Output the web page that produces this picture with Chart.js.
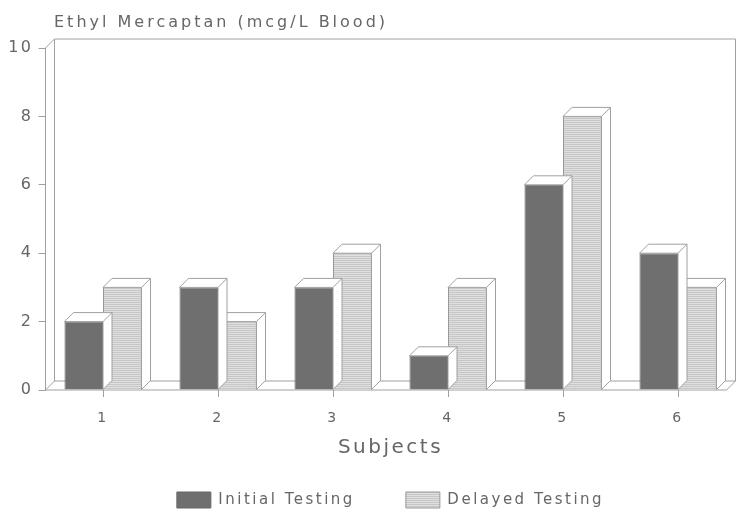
<!DOCTYPE html>
<html><head><meta charset="utf-8">
<script src="https://cdn.jsdelivr.net/npm/chart.js@4/dist/chart.umd.min.js"></script>
<style>html,body{margin:0;padding:0;background:#fff;} canvas{display:block;}</style>
</head><body>
<canvas id="c" width="740" height="515"></canvas>
<script>
const chartTitle = 'Ethyl Mercaptan (mcg/L Blood)';
const subjects = ['1', '2', '3', '4', '5', '6'];
const initialTesting = [2, 3, 3, 1, 6, 4];
const delayedTesting = [3, 2, 4, 3, 8, 3];
const yTicks = [0, 2, 4, 6, 8, 10];
const seriesNames = ['Initial Testing', 'Delayed Testing'];
const xTitle = 'Subjects';

const FONT = 'DejaVu Sans';
const TEXT = '#666';
const LINE = '#a0a0a0';
const DX = 9, DY = 9;

function hatch() {
  const c = document.createElement('canvas'); c.width = 4; c.height = 2;
  const g = c.getContext('2d');
  g.fillStyle = '#e0e0e0'; g.fillRect(0, 0, 4, 2);
  g.fillStyle = '#c6c6c6'; g.fillRect(0, 0, 4, 1);
  return g.createPattern(c, 'repeat');
}

const spacing = {
  id: 'spacing',
  beforeUpdate(ch) { ch.ctx.letterSpacing = '2.5px'; },
  beforeDraw(ch) { ch.ctx.letterSpacing = '2.5px'; }
};

const frame3d = {
  id: 'frame3d',
  beforeDatasetsDraw(ch) {
    const { ctx, chartArea: a, scales: { y } } = ch;
    const b = y.getPixelForValue(yTicks[0]);
    const t = y.getPixelForValue(yTicks[yTicks.length - 1]);
    const L = a.left, R = a.right - DX;
    ctx.save(); ctx.strokeStyle = LINE; ctx.lineWidth = 1;
    ctx.beginPath();
    ctx.moveTo(L, b); ctx.lineTo(R, b); ctx.lineTo(R + DX, b - DY);
    ctx.lineTo(R + DX, t - DY); ctx.lineTo(L + DX, t - DY); ctx.lineTo(L + DX, b - DY); ctx.lineTo(R + DX, b - DY);
    ctx.moveTo(L, b); ctx.lineTo(L + DX, b - DY);
    ctx.moveTo(L, t); ctx.lineTo(L + DX, t - DY);
    ctx.stroke(); ctx.restore();
  },
  afterDatasetDraw(ch, args) {
    const ctx = ch.ctx;
    ctx.save(); ctx.fillStyle = '#fff'; ctx.strokeStyle = LINE; ctx.lineWidth = 1;
    args.meta.data.forEach(el => {
      const { x, y, base, width } = el.getProps(['x', 'y', 'base', 'width'], true);
      const l = x - width / 2, r = x + width / 2;
      ctx.beginPath();
      ctx.moveTo(l, y); ctx.lineTo(l + DX, y - DY); ctx.lineTo(r + DX, y - DY);
      ctx.lineTo(r + DX, base - DY); ctx.lineTo(r, base); ctx.lineTo(r, y); ctx.closePath();
      ctx.fill(); ctx.stroke();
      ctx.beginPath(); ctx.moveTo(r, y); ctx.lineTo(r + DX, y - DY); ctx.stroke();
    });
    ctx.restore();
  },
  afterDraw(ch) {
    const ctx = ch.ctx;
    ctx.save();
    ctx.letterSpacing = '3px';
    ctx.font = '16px "' + FONT + '"';
    ctx.fillStyle = TEXT; ctx.textBaseline = 'middle'; ctx.textAlign = 'left';
    ctx.fillText(chartTitle, 54, 23);
    ctx.restore();
  }
};

new Chart(document.getElementById('c'), {
  type: 'bar',
  data: {
    labels: subjects,
    datasets: [
      { label: seriesNames[0], data: initialTesting, backgroundColor: '#6f6f6f', borderColor: '#666', borderWidth: 1 },
      { label: seriesNames[1], data: delayedTesting, backgroundColor: hatch(), borderColor: '#999', borderWidth: 1 }
    ]
  },
  options: {
    responsive: false,
    animation: false,
    events: [],
    categoryPercentage: 0.67,
    barPercentage: 1.0,
    layout: { padding: { left: 0, right: 4.5, top: 48, bottom: -3 } },
    plugins: {
      tooltip: { enabled: false },
      title: { display: false },
      legend: {
        position: 'bottom',
        fullSize: false,
        labels: { boxWidth: 34, boxHeight: 16, padding: 51, color: TEXT, font: { family: FONT, size: 15 } }
      }
    },
    scales: {
      x: {
        grid: { drawOnChartArea: false, offset: false, tickLength: 7, color: LINE },
        border: { display: false },
        ticks: { color: TEXT, font: { family: FONT, size: 14 }, padding: 13 },
        title: { display: true, text: xTitle, color: TEXT, font: { family: FONT, size: 20 }, padding: { top: 0, bottom: -19 } },
        afterFit: s => { s.height = 51; }
      },
      y: {
        min: 0, max: 10,
        afterBuildTicks: s => { s.ticks = yTicks.map(v => ({ value: v })); },
        grid: { drawOnChartArea: false, tickLength: 7, color: LINE },
        border: { display: true, color: LINE },
        ticks: { color: TEXT, font: { family: FONT, size: 16 }, padding: 5 },
        afterFit: s => { s.width = 45.5; }
      }
    }
  },
  plugins: [spacing, frame3d]
});
</script>
</body></html>
